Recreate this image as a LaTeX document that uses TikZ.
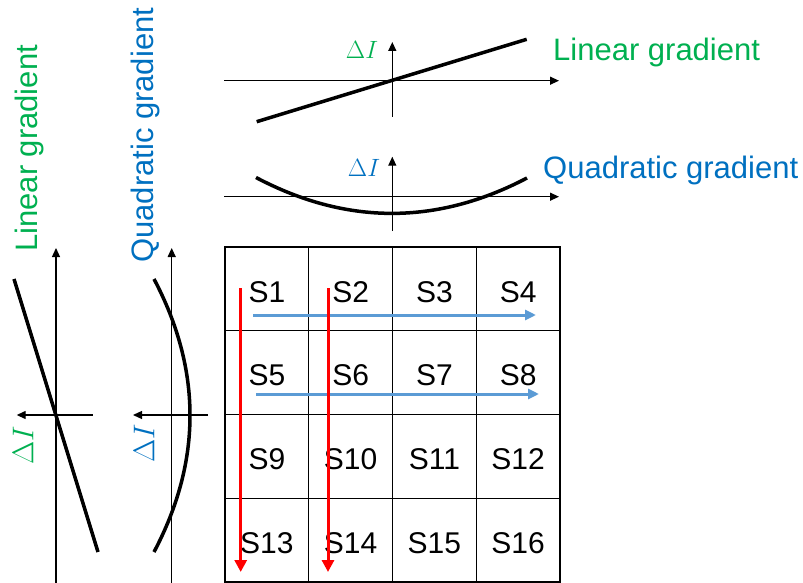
\RequirePackage{fix-cm}
\documentclass[tikz,border=0pt]{standalone}
\usepackage[no-math]{fontspec}
\setmainfont{Liberation Sans}
\usetikzlibrary{arrows.meta}
\definecolor{lgreen}{HTML}{00B050}
\definecolor{qblue}{HTML}{0070C0}
\definecolor{arrblue}{HTML}{5B9BD5}
\definecolor{arrred}{HTML}{FF0000}
\begin{document}
\begin{tikzpicture}[x=1pt,y=-1pt,
  axis/.style={line width=1.3pt,-{Triangle[length=9pt,width=8pt]}},
  curve/.style={line width=3.5pt},
  cell/.style={draw,line width=1.2pt,minimum width=83.75pt,minimum height=83.75pt,inner sep=0pt},
  slabel/.style={font=\fontsize{30}{36}\selectfont,inner sep=0pt},
  glabel/.style={font=\fontsize{31}{37}\selectfont,inner sep=0pt},
  dsmall/.style={font=\fontsize{25}{30}\selectfont,inner sep=0pt},
  dbig/.style={font=\fontsize{30}{36}\selectfont,inner sep=0pt},
  redarr/.style={draw=arrred,line width=3pt,-{Triangle[length=12pt,width=12pt]}},
  bluearr/.style={draw=arrblue,line width=3pt,-{Triangle[length=11pt,width=10pt]}}]
\useasboundingbox (0,0) rectangle (803,583);

% ---- top linear plot
\coordinate (tlh0) at (224,80.7);
\coordinate (tlh1) at (559,80.7);
\coordinate (tlv0) at (392.3,117);
\coordinate (tlv1) at (392.3,42);
\coordinate (tlc0) at (256.7,121.7);
\coordinate (tlc1) at (526.7,39.3);
\draw[axis] (tlh0) -- (tlh1);
\draw[axis] (tlv0) -- (tlv1);
\draw[curve] (tlc0) -- (tlc1);
\node[dsmall,text=lgreen] (tld) at (362,49.5) {$\Delta I$};
\node[glabel,text=lgreen,anchor=base west] (tlt) at (553,61) {Linear gradient};

% ---- top quadratic plot
\coordinate (tqh0) at (224,196.7);
\coordinate (tqh1) at (559,196.7);
\coordinate (tqv0) at (392.3,231);
\coordinate (tqv1) at (392.3,156.7);
\coordinate (tqc0) at (256,177.5);
\coordinate (tqc1) at (527,178);
\draw[axis] (tqh0) -- (tqh1);
\draw[axis] (tqv0) -- (tqv1);
\draw[curve] (tqc0) .. controls (346.3,225.2) and (436.7,225.3) .. (tqc1);
\node[dsmall,text=qblue] (tqd) at (364,168) {$\Delta I$};
\node[glabel,text=qblue,anchor=base west] (tqt) at (543,178.3) {Quadratic gradient};

% ---- left linear plot
\coordinate (llv0) at (56,583);
\coordinate (llv1) at (56,248);
\coordinate (llh0) at (92.7,415);
\coordinate (llh1) at (16.7,415);
\coordinate (llc0) at (14,279);
\coordinate (llc1) at (98,552);
\draw[axis] (llv0) -- (llv1);
\draw[axis] (llh0) -- (llh1);
\draw[curve] (llc0) -- (llc1);
\node[dbig,text=lgreen,rotate=90] (lld) at (23,445) {$\Delta I$};
\node[glabel,text=lgreen,rotate=90,anchor=base west] (llt) at (37.5,252) {Linear gradient};

% ---- left quadratic plot
\coordinate (lqv0) at (171.7,583);
\coordinate (lqv1) at (171.7,248);
\coordinate (lqh0) at (208,415);
\coordinate (lqh1) at (133,415);
\coordinate (lqc0) at (154,279);
\coordinate (lqc1) at (154,552);
\draw[axis] (lqv0) -- (lqv1);
\draw[axis] (lqh0) -- (lqh1);
\draw[curve] (lqc0) .. controls (202,370) and (202,461) .. (lqc1);
\node[dbig,text=qblue,rotate=90] (lqd) at (144,443) {$\Delta I$};
\node[glabel,text=qblue,rotate=90,anchor=base west] (lqt) at (153.5,263) {Quadratic gradient};

% ---- grid
\foreach \r in {0,...,3} {
  \foreach \c in {0,...,3} {
    \pgfmathtruncatemacro\n{\r*4+\c+1}
    \node[cell] (c\n) at ({266.875+\c*83.75},{288.875+\r*83.75}) {};
    \node[slabel] (s\n) at ([yshift=-3pt]c\n.center) {S\n};
  }
}

% ---- scan arrows
\coordinate (b1s) at (253,315);
\coordinate (b1e) at (536,315);
\coordinate (b2s) at (256,394);
\coordinate (b2e) at (539,394);
\draw[bluearr] (b1s) -- (b1e);
\draw[bluearr] (b2s) -- (b2e);
\coordinate (r1s) at (240.7,288);
\coordinate (r1e) at (240.7,572);
\coordinate (r2s) at (328,288);
\coordinate (r2e) at (328,572);
\draw[redarr] (r1s) -- (r1e);
\draw[redarr] (r2s) -- (r2e);
\end{tikzpicture}
\end{document}
